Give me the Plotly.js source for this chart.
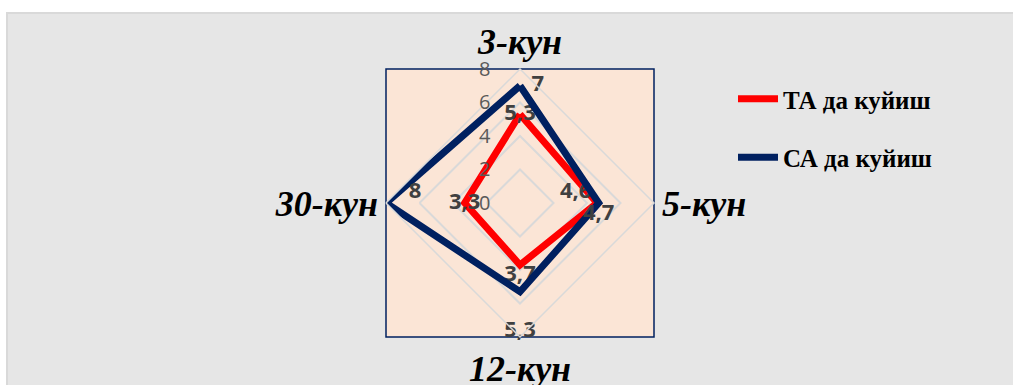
<!DOCTYPE html>
<html>
<head>
<meta charset="utf-8">
<script src="https://cdn.plot.ly/plotly-3.0.1.min.js"></script>
<style>
  html, body { margin: 0; padding: 0; background: #ffffff; }
  #chart { width: 1013px; height: 385px; }
</style>
</head>
<body>
<div id="chart"></div>
<script>
// categories (clockwise from top)
const DAYS = ['3-кун', '5-кун', '12-кун', '30-кун'];
const TA_VALUES = [5.3, 4.6, 3.7, 3.3];
const SA_VALUES = [7, 4.7, 5.3, 8];
const TA_LABELS = ['5,3', '4,6', '3,7', '3,3'];
const SA_LABELS = ['7', '4,7', '5,3', '8'];
const RADIAL_TICKS = [0, 2, 4, 6, 8];

const COLORS = {
  ta: '#ff0000',
  sa: '#002060',
  grid: '#d9d9d9',
  plotBg: '#fbe5d6',
  chartBg: '#e6e6e6',
  label: '#404040',
  tick: '#595959',
};

const NB = '\u00a0';

// close the polygon by repeating the first point
const close = arr => arr.concat([arr[0]]);

const LABEL_FONT = { family: 'Open Sans, sans-serif', size: 22, color: COLORS.label, weight: 'bold' };

const traces = [
  {
    type: 'scatterpolar',
    name: 'ТА да куйиш',
    legendgroup: 'ta',
    theta: close(DAYS),
    r: close(TA_VALUES),
    text: [TA_LABELS[0], TA_LABELS[1] + NB, TA_LABELS[2], TA_LABELS[3], ''],
    mode: 'lines+text',
    textposition: ['middle center', 'top left', 'bottom center', 'middle center', 'middle center'],
    textfont: LABEL_FONT,
    line: { color: COLORS.ta, width: 7 },
    hoverinfo: 'skip',
  },
  {
    type: 'scatterpolar',
    name: 'СА да куйиш',
    legendgroup: 'sa',
    theta: close(DAYS),
    r: close(SA_VALUES),
    text: [NB + NB + SA_LABELS[0], SA_LABELS[1], '<br>' + SA_LABELS[2], NB + NB + NB + NB + SA_LABELS[3], ''],
    mode: 'lines+text',
    textposition: ['middle right', 'bottom center', 'bottom center', 'top right', 'middle center'],
    textfont: LABEL_FONT,
    line: { color: COLORS.sa, width: 7 },
    hoverinfo: 'skip',
  },
];

// polar square: centre (520, 203), half-size 134 px
const W = 1013, H = 385;
const dom = {
  x: [386 / W, 654 / W],
  y: [1 - 337 / H, 1 - 69 / H],
};

const layout = {
  width: W,
  height: H,
  margin: { t: 0, r: 0, b: 0, l: 0 },
  paper_bgcolor: '#ffffff',
  showlegend: true,
  legend: {
    x: 733 / W, y: 1 - 76 / H, xanchor: 'left', yanchor: 'top',
    bgcolor: 'rgba(0,0,0,0)',
    traceorder: 'grouped',
    tracegroupgap: 23,
    itemwidth: 40,
    font: { family: 'Liberation Serif, serif', size: 25, color: '#000000', weight: 'bold' },
  },
  polar: {
    domain: dom,
    bgcolor: 'rgba(0,0,0,0)',
    gridshape: 'linear',
    radialaxis: {
      range: [0, 8],
      tickvals: RADIAL_TICKS,
      angle: 90,
      tickangle: 90,
      side: 'counterclockwise',
      showline: false,
      ticks: 'outside',
      ticklen: 22,
      tickcolor: 'rgba(0,0,0,0)',
      gridcolor: COLORS.grid,
      gridwidth: 1.5,
      tickfont: { family: 'Open Sans, sans-serif', size: 20, color: COLORS.tick },
    },
    angularaxis: {
      rotation: 90,
      direction: 'clockwise',
      showgrid: false,
      showline: true,
      linecolor: COLORS.grid,
      linewidth: 1.5,
      ticks: '',
      tickfont: { family: 'Liberation Serif, serif', size: 36, color: '#000000', weight: 'bold', style: 'italic' },
    },
  },
  shapes: [
    // chart area
    {
      type: 'rect', xref: 'paper', yref: 'paper', layer: 'below',
      x0: 7 / W, x1: 1.01, y0: -0.01, y1: 1 - 13 / H,
      fillcolor: COLORS.chartBg, line: { color: '#d9d9d9', width: 2 },
    },
    // plot area
    {
      type: 'rect', xref: 'paper', yref: 'paper', layer: 'below',
      x0: dom.x[0], x1: dom.x[1], y0: dom.y[0], y1: dom.y[1],
      fillcolor: COLORS.plotBg, line: { color: COLORS.sa, width: 1.5 },
    },
  ],
};

Plotly.newPlot('chart', traces, layout, { displayModeBar: false, responsive: false });
</script>
</body>
</html>
